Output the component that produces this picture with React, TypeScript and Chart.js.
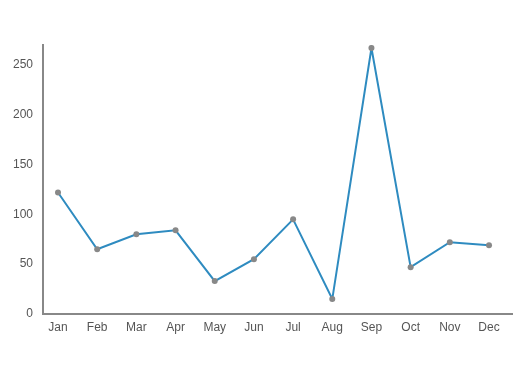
import React, { useEffect, useRef } from "react";
import { Chart, registerables } from "chart.js";

Chart.register(...registerables);

const months = ["Jan", "Feb", "Mar", "Apr", "May", "Jun", "Jul", "Aug", "Sep", "Oct", "Nov", "Dec"];
const values = [122, 65, 80, 84, 33, 55, 95, 15, 267, 47, 72, 69];
const yTicks = [0, 50, 100, 150, 200, 250];

export default function App() {
  const ref = useRef<HTMLCanvasElement | null>(null);
  useEffect(() => {
    if (!ref.current) return;
    const chart = new Chart(ref.current, {
      type: "line",
      data: {
        datasets: [
          {
            data: values.map((v, i) => ({ x: i, y: v })),
            borderColor: "#2e8bc0",
            borderWidth: 2,
            pointBackgroundColor: "#888888",
            pointBorderColor: "#888888",
            pointRadius: 3,
            pointBorderWidth: 0,
            tension: 0,
            fill: false,
          },
        ],
      },
      options: {
        animation: false,
        responsive: false,
        layout: { padding: { top: 45, right: 4, left: 0, bottom: 0 } },
        plugins: { legend: { display: false }, tooltip: { enabled: false } },
        scales: {
          x: {
            type: "linear",
            min: -0.383,
            max: 11.587,
            grid: { display: false, drawTicks: false },
            border: { display: true, color: "#888888", width: 2 },
            afterBuildTicks: (axis: any) => {
              axis.ticks = months.map((_, i) => ({ value: i }));
            },
            afterFit: (s: any) => {
              s.height = 61;
            },
            ticks: {
              autoSkip: false,
              maxRotation: 0,
              padding: 6,
              color: "#555555",
              font: { family: "Arial, 'Liberation Sans', sans-serif", size: 12 },
              callback: (v: any) => months[v] ?? "",
            },
          },
          y: {
            min: 0,
            max: 270,
            grid: { display: false, drawTicks: false },
            border: { display: true, color: "#888888", width: 2 },
            afterBuildTicks: (axis: any) => {
              axis.ticks = yTicks.map((v) => ({ value: v }));
            },
            afterFit: (s: any) => {
              s.width = 43;
            },
            ticks: {
              padding: 10,
              color: "#555555",
              font: { family: "Arial, 'Liberation Sans', sans-serif", size: 12 },
            },
          },
        },
      },
    } as any);
    return () => chart.destroy();
  }, []);
  return (
    <div style={{ position: "fixed", left: 0, top: 0, width: 516, height: 375, background: "#fff" }}>
      <canvas ref={ref} width={516} height={375} style={{ width: 516, height: 375 }} />
    </div>
  );
}
